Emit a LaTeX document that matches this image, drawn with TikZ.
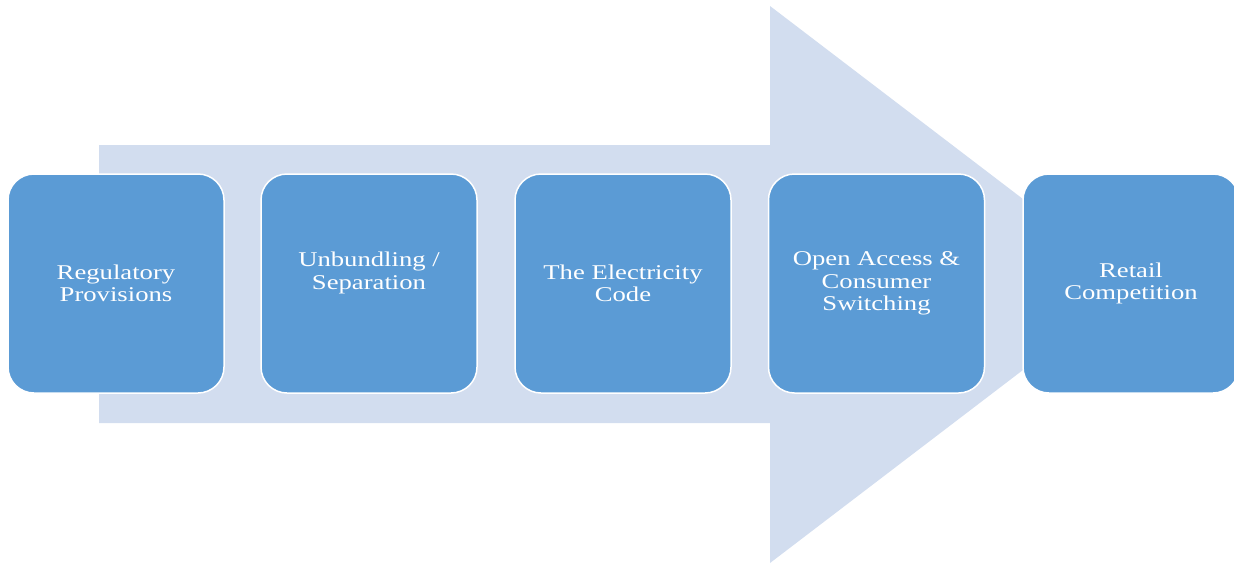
\documentclass[tikz,border=0pt]{standalone}
\usepackage{fontspec}
\setmainfont{Liberation Serif}[FakeStretch=1.27]
\definecolor{shaftblue}{HTML}{D2DDEF}
\definecolor{boxblue}{HTML}{5B9BD5}
\tikzset{
  steptext/.style={text=white, align=center, font=\fontsize{21}{22.5}\selectfont},
  stepbox/.style={steptext, draw=white, line width=1.5pt, fill=boxblue, rounded corners=26pt,
    minimum width=216pt, minimum height=219pt, inner sep=0pt}
}
\begin{document}
\begin{tikzpicture}[x=1pt,y=-1pt]
  \useasboundingbox (0,0) rectangle (1234,563);
  \clip (0,0) rectangle (1234,563);
  % wide process arrow behind the steps
  \fill[shaftblue] (99,145) -- (770,145) -- (770,6) -- (1135,284.5)
    -- (770,563) -- (770,423) -- (99,423) -- cycle;
  % the five steps
  \node[stepbox] (s1) at (116,283.5) {Regulatory\\Provisions};
  \node[stepbox] (s2) at (369,283.5) {};
  \node[steptext] (t2) at (369,273) {Unbundling /\\Separation};
  \node[stepbox] (s3) at (623,283.5) {The Electricity\\Code};
  \node[stepbox] (s4) at (876.5,283.5) {Open Access \&\\Consumer\\Switching};
  \node[stepbox] (s5) at (1131,283.5) {Retail\\Competition};
\end{tikzpicture}
\end{document}
